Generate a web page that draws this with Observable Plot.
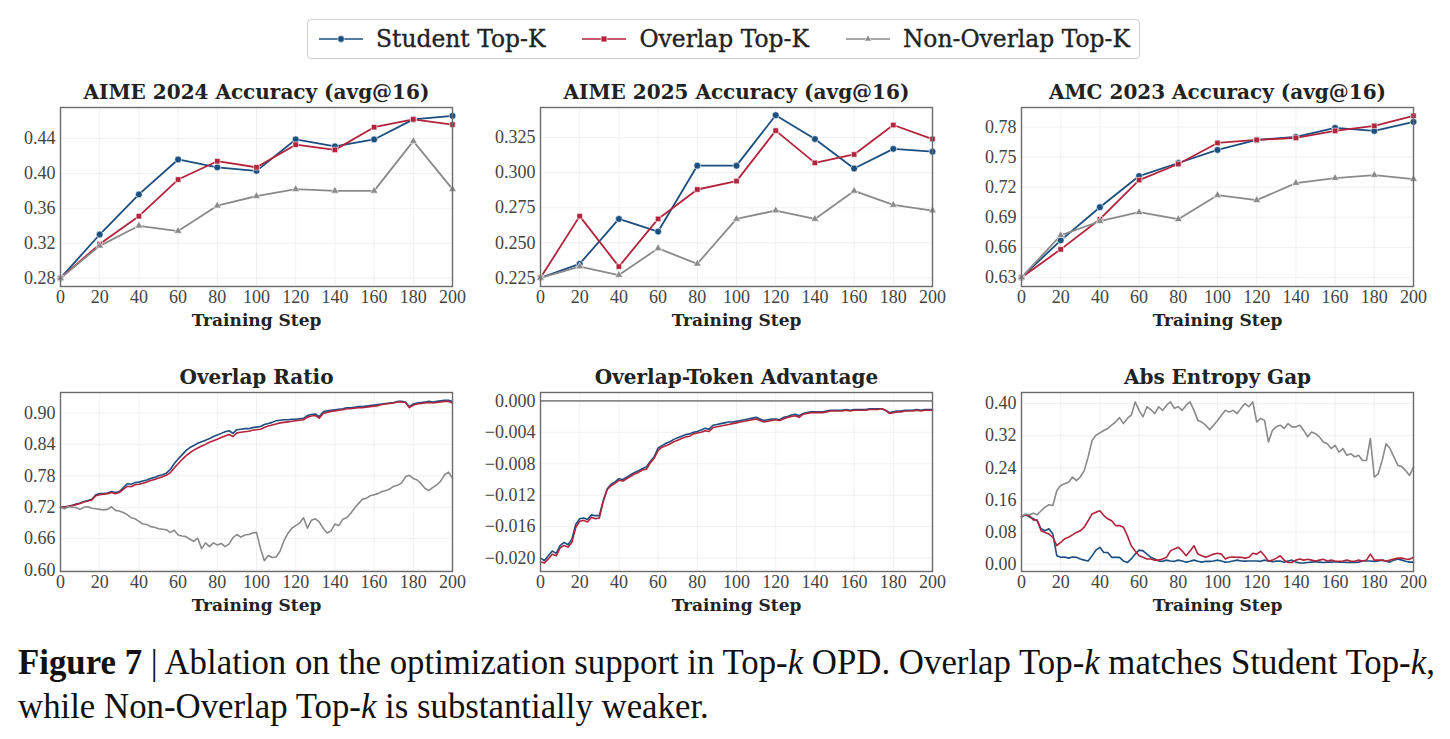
<!DOCTYPE html>
<html>
<head>
<meta charset="utf-8">
<script src="https://cdn.jsdelivr.net/npm/d3@7"></script>
<script src="https://cdn.jsdelivr.net/npm/@observablehq/plot@0.6"></script>
<style>
  body { margin: 0; background: #fff; }
  #fig { position: relative; width: 1450px; height: 739px; overflow: hidden; background: #fff; }
  .panel { position: absolute; }
  .legend {
    position: absolute; left: 307px; top: 19px; width: 833px; height: 40px;
    box-sizing: border-box; border: 1px solid #cfcfcf; border-radius: 4px;
    display: flex; align-items: center; padding-left: 11px; gap: 37px;
    font-family: "DejaVu Serif", serif; font-size: 23.4px; color: #222;
    -webkit-text-stroke: 0.35px #222;
  }
  .legend .item { display: flex; align-items: center; gap: 13px; white-space: nowrap; }
  .legend svg { display: block; }
  .caption {
    position: absolute; left: 18px; top: 641px; white-space: nowrap;
    font-family: "Liberation Serif", serif; font-size: 34.8px; line-height: 44px; color: #111;
  }
</style>
</head>
<body>
<div id="fig"></div>
<script>
// ---- series meta ----
const seriesNames = ["Student Top-K", "Overlap Top-K", "Non-Overlap Top-K"];
const seriesColors = ["#1b4f80", "#b3233c", "#8a8a8a"];
const seriesSymbols = ["circle", "square", "triangle"];

// ---- evaluation checkpoints (top row) ----
const evalSteps = [0, 20, 40, 60, 80, 100, 120, 140, 160, 180, 200];
const xTicks = [0, 20, 40, 60, 80, 100, 120, 140, 160, 180, 200];

const aime24Student    = [0.280, 0.330, 0.376, 0.416, 0.407, 0.403, 0.439, 0.431, 0.439, 0.462, 0.466];
const aime24Overlap    = [0.280, 0.319, 0.351, 0.393, 0.414, 0.407, 0.433, 0.427, 0.453, 0.462, 0.456];
const aime24NonOverlap = [0.280, 0.317, 0.340, 0.334, 0.363, 0.374, 0.382, 0.380, 0.380, 0.437, 0.382];

const aime25Student    = [0.225, 0.235, 0.267, 0.258, 0.305, 0.305, 0.341, 0.324, 0.303, 0.317, 0.315];
const aime25Overlap    = [0.225, 0.269, 0.233, 0.267, 0.288, 0.294, 0.330, 0.307, 0.313, 0.334, 0.324];
const aime25NonOverlap = [0.225, 0.233, 0.227, 0.246, 0.235, 0.267, 0.273, 0.267, 0.287, 0.277, 0.273];

const amc23Student     = [0.630, 0.667, 0.700, 0.731, 0.744, 0.757, 0.767, 0.770, 0.779, 0.776, 0.785];
const amc23Overlap     = [0.630, 0.658, 0.688, 0.727, 0.743, 0.764, 0.767, 0.769, 0.776, 0.781, 0.791];
const amc23NonOverlap  = [0.630, 0.672, 0.686, 0.695, 0.688, 0.712, 0.707, 0.724, 0.729, 0.732, 0.728];

// ---- training-time diagnostics (bottom row), logged every 2 steps ----
const trainSteps = d3.range(0, 201, 2);

const ratioStudent = [
  0.720, 0.721, 0.722, 0.724, 0.726, 0.728, 0.731, 0.733, 0.735, 0.744,
  0.746, 0.746, 0.747, 0.750, 0.748, 0.750, 0.757, 0.765, 0.764, 0.767,
  0.768, 0.770, 0.772, 0.775, 0.777, 0.780, 0.782, 0.785, 0.792, 0.803,
  0.812, 0.820, 0.828, 0.834, 0.838, 0.842, 0.845, 0.848, 0.851, 0.855,
  0.858, 0.861, 0.864, 0.866, 0.861, 0.868, 0.869, 0.870, 0.870, 0.872,
  0.873, 0.874, 0.878, 0.880, 0.882, 0.885, 0.886, 0.887, 0.887, 0.888,
  0.888, 0.889, 0.890, 0.895, 0.897, 0.898, 0.893, 0.902, 0.904, 0.905,
  0.906, 0.907, 0.908, 0.910, 0.910, 0.911, 0.912, 0.912, 0.913, 0.914,
  0.915, 0.916, 0.917, 0.918, 0.919, 0.920, 0.922, 0.922, 0.921, 0.912,
  0.917, 0.919, 0.920, 0.921, 0.922, 0.921, 0.922, 0.923, 0.924, 0.924,
  0.922];
const ratioOverlap = [
  0.720, 0.720, 0.722, 0.723, 0.725, 0.727, 0.730, 0.732, 0.734, 0.742,
  0.744, 0.745, 0.746, 0.748, 0.746, 0.748, 0.754, 0.760, 0.759, 0.763,
  0.764, 0.766, 0.768, 0.771, 0.773, 0.776, 0.778, 0.781, 0.786, 0.795,
  0.803, 0.811, 0.818, 0.824, 0.829, 0.833, 0.837, 0.840, 0.844, 0.847,
  0.850, 0.853, 0.856, 0.859, 0.855, 0.862, 0.863, 0.864, 0.865, 0.867,
  0.868, 0.869, 0.872, 0.875, 0.877, 0.879, 0.881, 0.882, 0.883, 0.884,
  0.885, 0.886, 0.887, 0.892, 0.894, 0.895, 0.890, 0.899, 0.901, 0.903,
  0.904, 0.905, 0.906, 0.908, 0.908, 0.909, 0.910, 0.910, 0.911, 0.912,
  0.913, 0.914, 0.916, 0.917, 0.918, 0.919, 0.921, 0.921, 0.920, 0.910,
  0.915, 0.917, 0.918, 0.919, 0.920, 0.919, 0.920, 0.921, 0.922, 0.922,
  0.919];
const ratioNonOverlap = [
  0.720, 0.717, 0.721, 0.720, 0.719, 0.716, 0.720, 0.721, 0.718, 0.717,
  0.716, 0.715, 0.716, 0.721, 0.714, 0.713, 0.710, 0.706, 0.700, 0.698,
  0.693, 0.688, 0.687, 0.683, 0.682, 0.679, 0.678, 0.677, 0.672, 0.676,
  0.667, 0.665, 0.664, 0.659, 0.655, 0.661, 0.641, 0.652, 0.645, 0.652,
  0.648, 0.651, 0.645, 0.650, 0.662, 0.668, 0.663, 0.667, 0.668, 0.671,
  0.672, 0.642, 0.618, 0.628, 0.624, 0.625, 0.636, 0.656, 0.670, 0.680,
  0.685, 0.690, 0.700, 0.680, 0.695, 0.698, 0.692, 0.680, 0.671, 0.675,
  0.688, 0.685, 0.697, 0.700, 0.708, 0.718, 0.727, 0.735, 0.737, 0.742,
  0.744, 0.746, 0.750, 0.752, 0.755, 0.760, 0.762, 0.766, 0.778, 0.781,
  0.775, 0.772, 0.765, 0.756, 0.752, 0.758, 0.763, 0.770, 0.782, 0.787,
  0.775];

const advStudent = [
  -0.0200, -0.0203, -0.0197, -0.0191, -0.0194, -0.0184, -0.0180, -0.0183, -0.0176, -0.0157,
  -0.0150, -0.0149, -0.0151, -0.0145, -0.0146, -0.0146, -0.0127, -0.0112, -0.0106, -0.0103,
  -0.0099, -0.0100, -0.0097, -0.0094, -0.0091, -0.0089, -0.0086, -0.0084, -0.0077, -0.0071,
  -0.0060, -0.0057, -0.0054, -0.0052, -0.0049, -0.0047, -0.0045, -0.0043, -0.0042, -0.0040,
  -0.0039, -0.0037, -0.0035, -0.0036, -0.0031, -0.0030, -0.0029, -0.0028, -0.0027, -0.0027,
  -0.0026, -0.0025, -0.0024, -0.0023, -0.0022, -0.0021, -0.0023, -0.0025, -0.0024, -0.0023,
  -0.0023, -0.0024, -0.0021, -0.0020, -0.0018, -0.0017, -0.0019, -0.0016, -0.0015, -0.0014,
  -0.0014, -0.0014, -0.0014, -0.0013, -0.0012, -0.0012, -0.0012, -0.0012, -0.0011, -0.0012,
  -0.0011, -0.0011, -0.0011, -0.0011, -0.0010, -0.0010, -0.0010, -0.0010, -0.0012, -0.0015,
  -0.0014, -0.0013, -0.0013, -0.0012, -0.0012, -0.0012, -0.0011, -0.0012, -0.0011, -0.0011,
  -0.0011];
const advOverlap = [
  -0.0205, -0.0206, -0.0201, -0.0195, -0.0197, -0.0187, -0.0184, -0.0186, -0.0180, -0.0161,
  -0.0153, -0.0152, -0.0154, -0.0148, -0.0150, -0.0149, -0.0128, -0.0113, -0.0108, -0.0105,
  -0.0101, -0.0102, -0.0099, -0.0096, -0.0093, -0.0091, -0.0088, -0.0087, -0.0079, -0.0073,
  -0.0063, -0.0059, -0.0057, -0.0055, -0.0052, -0.0050, -0.0048, -0.0046, -0.0045, -0.0042,
  -0.0041, -0.0040, -0.0038, -0.0039, -0.0034, -0.0033, -0.0032, -0.0031, -0.0030, -0.0029,
  -0.0028, -0.0027, -0.0026, -0.0025, -0.0024, -0.0023, -0.0025, -0.0027, -0.0026, -0.0025,
  -0.0024, -0.0025, -0.0023, -0.0021, -0.0020, -0.0019, -0.0021, -0.0017, -0.0016, -0.0015,
  -0.0015, -0.0015, -0.0015, -0.0014, -0.0013, -0.0013, -0.0013, -0.0013, -0.0012, -0.0013,
  -0.0012, -0.0012, -0.0012, -0.0012, -0.0011, -0.0011, -0.0011, -0.0010, -0.0012, -0.0016,
  -0.0015, -0.0014, -0.0014, -0.0013, -0.0013, -0.0013, -0.0012, -0.0013, -0.0012, -0.0012,
  -0.0012];

const gapStudent = [
  0.118, 0.123, 0.118, 0.113, 0.108, 0.088, 0.083, 0.088, 0.075, 0.021,
  0.017, 0.018, 0.015, 0.018, 0.017, 0.013, 0.010, 0.008, 0.021, 0.035,
  0.042, 0.029, 0.029, 0.017, 0.017, 0.017, 0.008, 0.004, 0.013, 0.025,
  0.035, 0.033, 0.025, 0.017, 0.013, 0.008, 0.007, 0.010, 0.008, 0.007,
  0.010, 0.008, 0.005, 0.007, 0.010, 0.007, 0.005, 0.007, 0.007, 0.008,
  0.010, 0.008, 0.005, 0.006, 0.008, 0.010, 0.008, 0.0075, 0.008, 0.008,
  0.008, 0.007, 0.010, 0.008, 0.006, 0.0075, 0.008, 0.005, 0.008, 0.010,
  0.005, 0.003, 0.003, 0.004, 0.005, 0.006, 0.005, 0.004, 0.005, 0.005,
  0.006, 0.005, 0.005, 0.004, 0.005, 0.004, 0.005, 0.008, 0.008, 0.008,
  0.007, 0.008, 0.010, 0.007, 0.005, 0.010, 0.013, 0.010, 0.007, 0.005,
  0.005];
const gapOverlap = [
  0.118, 0.123, 0.121, 0.110, 0.110, 0.083, 0.079, 0.075, 0.067, 0.046,
  0.054, 0.063, 0.067, 0.073, 0.079, 0.083, 0.092, 0.108, 0.125, 0.129,
  0.133, 0.121, 0.113, 0.108, 0.096, 0.096, 0.092, 0.071, 0.046, 0.033,
  0.021, 0.017, 0.013, 0.013, 0.010, 0.010, 0.013, 0.017, 0.033, 0.038,
  0.042, 0.033, 0.021, 0.033, 0.046, 0.025, 0.021, 0.017, 0.021, 0.025,
  0.027, 0.025, 0.013, 0.017, 0.018, 0.017, 0.017, 0.015, 0.017, 0.027,
  0.025, 0.032, 0.021, 0.008, 0.010, 0.015, 0.021, 0.010, 0.004, 0.004,
  0.010, 0.013, 0.010, 0.012, 0.010, 0.008, 0.010, 0.012, 0.008, 0.010,
  0.008, 0.007, 0.008, 0.010, 0.008, 0.007, 0.010, 0.008, 0.010, 0.025,
  0.010, 0.010, 0.010, 0.008, 0.010, 0.013, 0.015, 0.015, 0.013, 0.012,
  0.017];
const gapNonOverlap = [
  0.118, 0.125, 0.123, 0.127, 0.123, 0.133, 0.142, 0.148, 0.146, 0.183,
  0.196, 0.200, 0.204, 0.217, 0.208, 0.217, 0.233, 0.267, 0.308, 0.321,
  0.327, 0.333, 0.338, 0.346, 0.354, 0.365, 0.350, 0.363, 0.371, 0.404,
  0.383, 0.367, 0.392, 0.385, 0.375, 0.392, 0.383, 0.396, 0.404, 0.388,
  0.392, 0.383, 0.396, 0.404, 0.383, 0.358, 0.354, 0.346, 0.335, 0.346,
  0.358, 0.371, 0.383, 0.379, 0.383, 0.375, 0.388, 0.400, 0.392, 0.404,
  0.354, 0.363, 0.358, 0.304, 0.333, 0.342, 0.346, 0.338, 0.350, 0.342,
  0.342, 0.346, 0.333, 0.317, 0.329, 0.325, 0.317, 0.304, 0.300, 0.288,
  0.296, 0.279, 0.288, 0.271, 0.275, 0.267, 0.271, 0.258, 0.258, 0.313,
  0.217, 0.225, 0.258, 0.300, 0.288, 0.267, 0.246, 0.243, 0.233, 0.221,
  0.242];

// ---- panel definitions ----
const panels = [
  { title: "AIME 2024 Accuracy (avg@16)", steps: evalSteps, markers: true,
    series: [aime24Student, aime24Overlap, aime24NonOverlap],
    yDomain: [0.2704, 0.4756], yTicks: [0.28, 0.32, 0.36, 0.40, 0.44], fmt: ".2f", left: 60, top: 107 },
  { title: "AIME 2025 Accuracy (avg@16)", steps: evalSteps, markers: true,
    series: [aime25Student, aime25Overlap, aime25NonOverlap],
    yDomain: [0.2188, 0.3465], yTicks: [0.225, 0.250, 0.275, 0.300, 0.325], fmt: ".3f", left: 540, top: 107 },
  { title: "AMC 2023 Accuracy (avg@16)", steps: evalSteps, markers: true,
    series: [amc23Student, amc23Overlap, amc23NonOverlap],
    yDomain: [0.621, 0.7993], yTicks: [0.63, 0.66, 0.69, 0.72, 0.75, 0.78], fmt: ".2f", left: 1021, top: 107 },
  { title: "Overlap Ratio", steps: trainSteps, markers: false,
    series: [ratioStudent, ratioOverlap, ratioNonOverlap],
    yDomain: [0.5974, 0.939], yTicks: [0.60, 0.66, 0.72, 0.78, 0.84, 0.90], fmt: ".2f", left: 60, top: 392 },
  { title: "Overlap-Token Advantage", steps: trainSteps, markers: false, zeroRule: true,
    series: [advStudent, advOverlap, null],
    yDomain: [-0.0217, 0.00106], yTicks: [-0.020, -0.016, -0.012, -0.008, -0.004, 0.000], fmt: ".3f", left: 540, top: 392 },
  { title: "Abs Entropy Gap", steps: trainSteps, markers: false,
    series: [gapStudent, gapOverlap, gapNonOverlap],
    yDomain: [-0.0183, 0.4275], yTicks: [0.00, 0.08, 0.16, 0.24, 0.32, 0.40], fmt: ".2f", left: 1021, top: 392 }
];

const frameW = 392, frameH = 179;
const mL = 80, mR = 14, mT = 34, mB = 48;
const fig = document.getElementById("fig");

for (const p of panels) {
  const rows = [];
  p.series.forEach((vals, k) => {
    if (!vals) return;
    vals.forEach((v, i) => rows.push({ step: p.steps[i], value: v, series: seriesNames[k] }));
  });

  const marks = [
    Plot.gridX(xTicks, { stroke: "#eeeeee", strokeOpacity: 1, strokeWidth: 0.8 }),
    Plot.gridY(p.yTicks, { stroke: "#eeeeee", strokeOpacity: 1, strokeWidth: 0.8 })
  ];
  if (p.zeroRule) marks.push(Plot.ruleY([0], { stroke: "#8a8a8a", strokeWidth: 1.7 }));
  marks.push(Plot.line(rows, { x: "step", y: "value", z: "series", stroke: "series", strokeWidth: p.markers ? 1.8 : 1.6 }));
  if (p.markers) {
    const sizes = { "Student Top-K": 3.4, "Overlap Top-K": 3.1, "Non-Overlap Top-K": 2.9 };
    for (const name of seriesNames) {
      marks.push(Plot.dot(rows.filter(d => d.series === name), {
        x: "step", y: "value", fill: "series", symbol: "series",
        r: sizes[name], stroke: "white", strokeWidth: 0.6
      }));
    }
  }
  marks.push(Plot.frame({ stroke: "#6b6b6b", strokeWidth: 1.4 }));
  marks.push(Plot.text([p.title], {
    text: d => d, frameAnchor: "top", dy: -15, lineAnchor: "middle",
    fontFamily: "DejaVu Serif", fontWeight: "bold", fontSize: 20, fill: "#222"
  }));
  marks.push(Plot.text(["Training Step"], {
    text: d => d, frameAnchor: "bottom", dy: 34, lineAnchor: "middle",
    fontFamily: "DejaVu Serif", fontWeight: "bold", fontSize: 17, fill: "#222"
  }));

  const svg = Plot.plot({
    width: frameW + mL + mR, height: frameH + mT + mB,
    marginLeft: mL, marginRight: mR, marginTop: mT, marginBottom: mB,
    x: { domain: [0, 200], ticks: xTicks, tickSize: 0, tickPadding: 4, label: null },
    y: { domain: p.yDomain, ticks: p.yTicks, tickFormat: d3.format(p.fmt), tickSize: 0, tickPadding: 5, label: null },
    color: { domain: seriesNames, range: seriesColors },
    symbol: { domain: seriesNames, range: seriesSymbols },
    style: { fontFamily: "Liberation Serif", fontSize: "18px", color: "#444", background: "transparent", overflow: "visible" },
    marks
  });
  svg.classList.add("panel");
  svg.style.left = (p.left - mL) + "px";
  svg.style.top = (p.top - mT) + "px";
  fig.appendChild(svg);
}

// ---- legend ----
const legend = document.createElement("div");
legend.className = "legend";
seriesNames.forEach((name, k) => {
  const item = document.createElement("div");
  item.className = "item";
  const sw = d3.create("svg").attr("width", 44).attr("height", 16);
  sw.append("line").attr("x1", 0).attr("x2", 44).attr("y1", 8).attr("y2", 8)
    .attr("stroke", seriesColors[k]).attr("stroke-width", 1.7);
  const sym = { circle: d3.symbolCircle, square: d3.symbolSquare, triangle: d3.symbolTriangle }[seriesSymbols[k]];
  const area = [36, 34, 22][k];
  sw.append("path").attr("d", d3.symbol(sym, area)()).attr("transform", "translate(22,8)")
    .attr("fill", seriesColors[k]).attr("stroke", "white").attr("stroke-width", 0.6);
  item.appendChild(sw.node());
  const label = document.createElement("span");
  label.textContent = name;
  item.appendChild(label);
  legend.appendChild(item);
});
fig.appendChild(legend);

// ---- caption ----
const caption = document.createElement("div");
caption.className = "caption";
caption.innerHTML =
  "<b>Figure 7</b> | Ablation on the optimization support in Top-<i>k</i> OPD. Overlap Top-<i>k</i> matches Student Top-<i>k</i>,<br>" +
  "while Non-Overlap Top-<i>k</i> is substantially weaker.";
fig.appendChild(caption);
</script>
</body>
</html>
